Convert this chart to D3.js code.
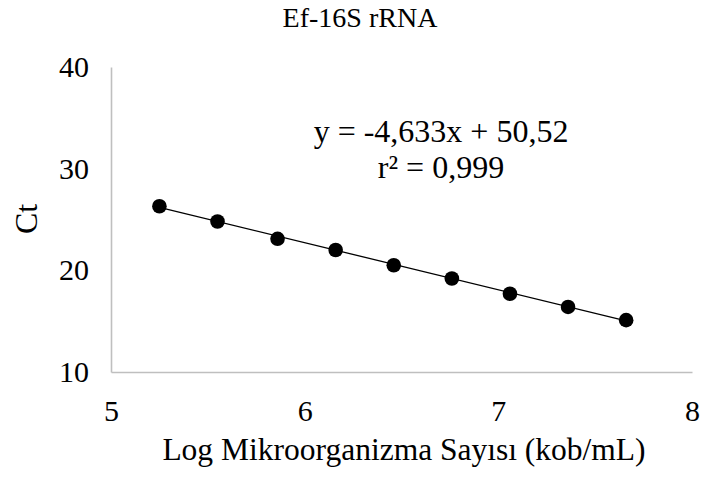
<!DOCTYPE html>
<html>
<head>
<meta charset="utf-8">
<script src="https://cdn.jsdelivr.net/npm/d3@7"></script>
<style>
  html, body { margin: 0; padding: 0; background: #fff; }
  svg text { font-family: "Liberation Serif", "Times New Roman", serif; fill: #000; }
</style>
</head>
<body>
<svg id="chart" width="702" height="479"></svg>
<script>
// Standard curve: log microorganism count vs Ct
const logCounts = [5.25, 5.55, 5.86, 6.16, 6.46, 6.76, 7.06, 7.36, 7.66];
const ctValues  = [26.3, 24.8, 23.1, 22.0, 20.5, 19.2, 17.7, 16.4, 15.1];
const xTicks = [5, 6, 7, 8];
const yTicks = [10, 20, 30, 40];
const slope = -4.633;
const intercept = 50.52;
const rSquared = "0,999";
const chartTitle = "Ef-16S rRNA";
const xTitle = "Log Mikroorganizma Sayısı (kob/mL)";
const yTitle = "Ct";

const svg = d3.select("#chart");
const plot = { left: 111, right: 692, top: 67, bottom: 372 };

const x = d3.scaleLinear().domain([5, 8]).range([plot.left, plot.right]);
const y = d3.scaleLinear().domain([10, 40]).range([plot.bottom, plot.top]);

// Title, centred over the whole chart area
svg.append("text")
  .attr("x", 360).attr("y", 27)
  .attr("text-anchor", "middle")
  .style("font-size", "28px")
  .text(chartTitle);

// Axes: domain lines plus tick labels, no tick marks
const xAxis = d3.axisBottom(x).tickValues(xTicks).tickSize(0).tickPadding(28).tickFormat(d3.format("d"));
const yAxis = d3.axisLeft(y).tickValues(yTicks).tickSize(0).tickPadding(22).tickFormat(d3.format("d"));

const gx = svg.append("g").attr("transform", `translate(0,${plot.bottom})`).call(xAxis);
const gy = svg.append("g").attr("transform", `translate(${plot.left},0)`).call(yAxis);

[gx, gy].forEach(g => {
  g.attr("font-family", null);
  g.select(".domain").attr("stroke", "#bfbfbf").attr("stroke-width", 1.6);
  g.selectAll("text").style("font-size", "30px").attr("fill", "#000");
});

// Axis titles
svg.append("text")
  .attr("x", 404).attr("y", 460)
  .attr("text-anchor", "middle")
  .style("font-size", "31.5px")
  .text(xTitle);

svg.append("text")
  .attr("transform", `translate(37,219) rotate(-90)`)
  .attr("text-anchor", "middle")
  .style("font-size", "32px")
  .text(yTitle);

// Linear trendline across the data range
const x0 = d3.min(logCounts), x1 = d3.max(logCounts);
svg.append("line")
  .attr("x1", x(x0)).attr("y1", y(slope * x0 + intercept))
  .attr("x2", x(x1)).attr("y2", y(slope * x1 + intercept))
  .attr("stroke", "#000").attr("stroke-width", 1.3);

// Data points
svg.append("g").selectAll("circle")
  .data(logCounts.map((v, i) => [v, ctValues[i]]))
  .join("circle")
  .attr("cx", d => x(d[0]))
  .attr("cy", d => y(d[1]))
  .attr("r", 7.3)
  .attr("fill", "#000");

// Regression equation
const eq = svg.append("text")
  .attr("x", 441).attr("y", 142)
  .attr("text-anchor", "middle")
  .style("font-size", "32px");
eq.append("tspan").attr("x", 441).text(`y = ${String(slope).replace(".", ",")}x + ${String(intercept).replace(".", ",")}`);
eq.append("tspan").attr("x", 441).attr("dy", 36).text(`r² = ${rSquared}`);
</script>
</body>
</html>
